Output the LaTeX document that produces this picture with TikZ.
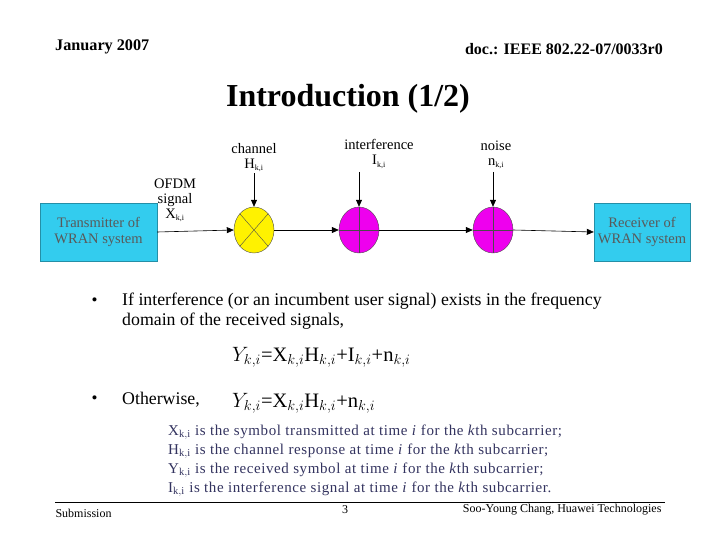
\documentclass[tikz,border=0pt]{standalone}
\usepackage{fontspec}
\setmainfont{Liberation Serif}
\usetikzlibrary{arrows.meta}
\definecolor{boxc}{HTML}{33CCEE}
\definecolor{defc}{HTML}{33335F}
\definecolor{mag}{HTML}{EE00EE}
\tikzset{blk/.style={draw=boxc!70!black,fill=boxc,minimum width=#1,minimum height=58pt,align=center,font=\fontsize{14.5}{16}\selectfont,text=black!65,inner sep=1pt},
 sum/.style={draw=black!70,fill=mag,ellipse,minimum width=40pt,minimum height=46pt},
 lab/.style={font=\fontsize{14.5}{15}\selectfont,align=center,inner sep=1pt},
 arr/.style={-{Triangle[length=7pt,width=6pt]},line width=0.6pt},
 dfn/.style={anchor=west,text=defc,font=\fontsize{15}{16}\selectfont,inner sep=0pt,
   /utils/exec={\addfontfeatures{LetterSpace=4}}}}
\usetikzlibrary{shapes.geometric}
\begin{document}
\begin{tikzpicture}[x=1pt,y=-1pt]
\useasboundingbox (0,0) rectangle (720,540);
\node[anchor=west,font=\bfseries\fontsize{16.2}{18}\selectfont,inner sep=0pt] (hd) at (55,47) {January 2007};
\node[anchor=east,font=\bfseries\fontsize{16}{18}\selectfont,inner sep=0pt] (hd2) at (663,49) {doc.: IEEE 802.22-07/0033r0};
\node[font=\bfseries\fontsize{32}{34}\selectfont] (ttl) at (348,99) {Introduction (1/2)};
\node[blk=117pt] (tx) at (98.5,232) {Transmitter of\\WRAN system};
\node[blk=96pt] (rx) at (642,232) {Receiver of\\WRAN system};
\node[sum,fill=yellow] (m) at (254,230) {};
\draw[black!70] (m.north west) -- (m.south east) (m.north east) -- (m.south west);
\node[sum] (a1) at (359,230) {};
\draw[black!70] (a1.north) -- (a1.south) (a1.west) -- (a1.east);
\node[sum] (a2) at (493,230) {};
\draw[black!70] (a2.north) -- (a2.south) (a2.west) -- (a2.east);
\node[lab] (lc) at (254,158) {channel\\H\textsubscript{\footnotesize k,i}};
\node[lab] (li) at (379,154) {interference\\I\textsubscript{\footnotesize k,i}};
\node[lab] (ln) at (496,155) {noise\\n\textsubscript{\footnotesize k,i}};
\node[lab] (lo) at (175,200) {OFDM\\signal\\X\textsubscript{\footnotesize k,i}};
\draw[arr] (lc.south) -- (m.north);
\draw[arr] (359,172) -- (a1.north);
\draw[arr] (493,172) -- (a2.north);
\draw[arr] (tx.east) -- (m.west);
\draw[arr] (m.east) -- (a1.west);
\draw[arr] (a1.east) -- (a2.west);
\draw[arr] (a2.east) -- (rx.west);
\node[anchor=west,font=\fontsize{17}{20}\selectfont] (b1) at (88,302) {•};
\node[anchor=north west,align=left,font=\fontsize{17.8}{20}\selectfont,inner sep=0pt] (t1) at (122,293) {If interference (or an incumbent user signal) exists in the frequency\\domain of the received signals,};
\node[anchor=west,font=\fontsize{20.5}{22}\selectfont,inner sep=0pt] (e1) at (232,357) {$Y_{k,i}$=X$_{k,i}$H$_{k,i}$+I$_{k,i}$+n$_{k,i}$};
\node[anchor=west,font=\fontsize{17}{20}\selectfont] (b2) at (88,400) {•};
\node[anchor=west,font=\fontsize{17.8}{20}\selectfont,inner sep=0pt] (t2) at (122,400) {Otherwise,};
\node[anchor=west,font=\fontsize{20.5}{22}\selectfont,inner sep=0pt] (e2) at (232,403) {$Y_{k,i}$=X$_{k,i}$H$_{k,i}$+n$_{k,i}$};
\node[dfn] (d1) at (168,432) {X$_{\mathrm{k,i}}$ is the symbol transmitted at time \textit{i} for the \textit{k}th subcarrier;};
\node[dfn] (d2) at (168,451) {H$_{\mathrm{k,i}}$ is the channel response at time \textit{i} for the \textit{k}th subcarrier;};
\node[dfn] (d3) at (168,470) {Y$_{\mathrm{k,i}}$ is the received symbol at time \textit{i} for the \textit{k}th subcarrier;};
\node[dfn] (d4) at (168,489) {I$_{\mathrm{k,i}}$ is the interference signal at time \textit{i} for the \textit{k}th subcarrier.};
\draw[line width=0.5pt] (55,502) -- (665,502);
\node[anchor=west,font=\fontsize{12}{14}\selectfont] (sb) at (52,513) {Submission};
\node[font=\fontsize{12}{14}\selectfont] (pg) at (345,510) {3};
\node[anchor=east,font=\fontsize{12}{14}\selectfont] (au) at (665,510) {Soo-Young Chang, Huawei Technologies};
\end{tikzpicture}
\end{document}
